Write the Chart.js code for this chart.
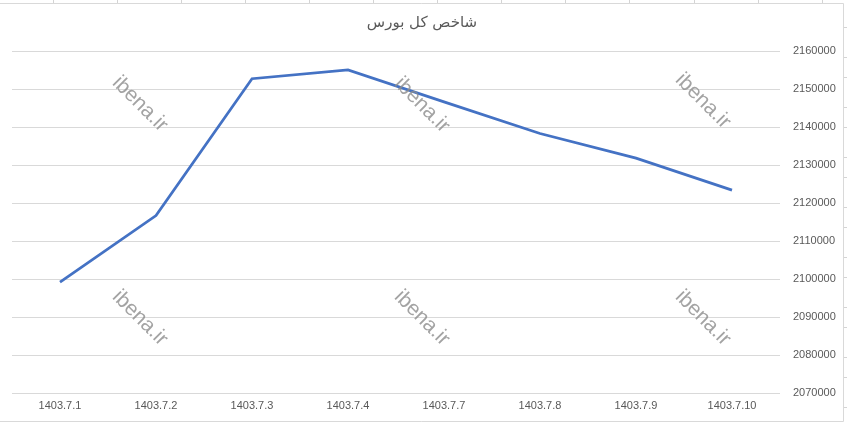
<!DOCTYPE html>
<html>
<head>
<meta charset="utf-8">
<script src="https://cdn.jsdelivr.net/npm/chart.js@4/dist/chart.umd.min.js"></script>
<style>
html,body{margin:0;padding:0;background:#fff;}
#wrap{position:relative;width:847px;height:424px;}
canvas{display:block;}
</style>
</head>
<body>
<div id="wrap"><canvas id="c" width="847" height="424"></canvas></div>
<script>
const title = 'شاخص کل بورس';
const categories = ['1403.7.1','1403.7.2','1403.7.3','1403.7.4','1403.7.7','1403.7.8','1403.7.9','1403.7.10'];
const indexValues = [2099200, 2116700, 2152700, 2155000, 2146600, 2138300, 2131800, 2123400];
const yMin = 2070000, yMax = 2160000, yStep = 10000;
const watermarkText = 'ibena.ir';

const decor = {
  id: 'decor',
  beforeDraw(chart) {
    const ctx = chart.ctx;
    ctx.save();
    ctx.fillStyle = '#ffffff';
    ctx.fillRect(0, 0, 847, 424);
    ctx.strokeStyle = '#d4d4d4';
    ctx.lineWidth = 1;
    ctx.beginPath();
    for (let x = 52.5; x < 844; x += 64.1) { ctx.moveTo(Math.round(x) + 0.5, 0); ctx.lineTo(Math.round(x) + 0.5, 3); }
    ctx.stroke();
    ctx.beginPath();
    let y = 27, alt = true;
    while (y < 424) { ctx.moveTo(844, y + 0.5); ctx.lineTo(847, y + 0.5); y += alt ? 30 : 20; alt = !alt; }
    ctx.stroke();
    ctx.strokeStyle = '#d9d9d9';
    ctx.beginPath();
    ctx.moveTo(0, 3.5); ctx.lineTo(843.5, 3.5); ctx.lineTo(843.5, 421.5); ctx.lineTo(0, 421.5);
    ctx.stroke();
    // title
    ctx.font = "15px 'DejaVu Sans', Arial, sans-serif";
    ctx.fillStyle = '#595959';
    ctx.textAlign = 'center';
    ctx.textBaseline = 'middle';
    ctx.direction = 'rtl';
    ctx.fillText(title, 422, 23);
    ctx.restore();
  },
  afterDatasetsDraw(chart) {
    const ctx = chart.ctx;
    ctx.save();
    ctx.font = '21px "Liberation Sans", Arial, sans-serif';
    ctx.fillStyle = 'rgba(140,140,140,0.8)';
    ctx.textAlign = 'center';
    ctx.textBaseline = 'middle';
    const spots = [[140,104],[422,105],[703,101],[140,318],[422,318],[703,318]];
    for (const [x, y] of spots) {
      ctx.save();
      ctx.translate(x, y);
      ctx.rotate(Math.PI / 4);
      ctx.fillText(watermarkText, 0, 0);
      ctx.restore();
    }
    ctx.restore();
  }
};

new Chart(document.getElementById('c'), {
  type: 'line',
  data: {
    labels: categories,
    datasets: [{
      data: indexValues,
      borderColor: '#4472C4',
      borderWidth: 2.75,
      pointRadius: 0,
      tension: 0,
      fill: false
    }]
  },
  options: {
    responsive: false,
    animation: false,
    devicePixelRatio: 1,
    layout: { padding: { left: 12, right: 0, top: 51, bottom: 0 } },
    plugins: {
      legend: { display: false },
      tooltip: { enabled: false },
      title: { display: false }
    },
    scales: {
      x: {
        offset: true,
        grid: { display: false, drawTicks: false },
        border: { display: false },
        ticks: { color: '#595959', font: { family: "'Liberation Sans', Arial, sans-serif", size: 11 }, padding: 6, maxRotation: 0, autoSkip: false },
        afterFit(s) { s.height = 31; }
      },
      y: {
        position: 'right',
        min: yMin, max: yMax,
        grid: { color: '#d9d9d9', lineWidth: 1, drawTicks: false },
        border: { display: false },
        ticks: { stepSize: yStep, color: '#595959', font: { family: "'Liberation Sans', Arial, sans-serif", size: 11 }, padding: 13, callback: v => String(v) },
        afterFit(s) { s.width = 67; }
      }
    }
  },
  plugins: [decor]
});
</script>
</body>
</html>
